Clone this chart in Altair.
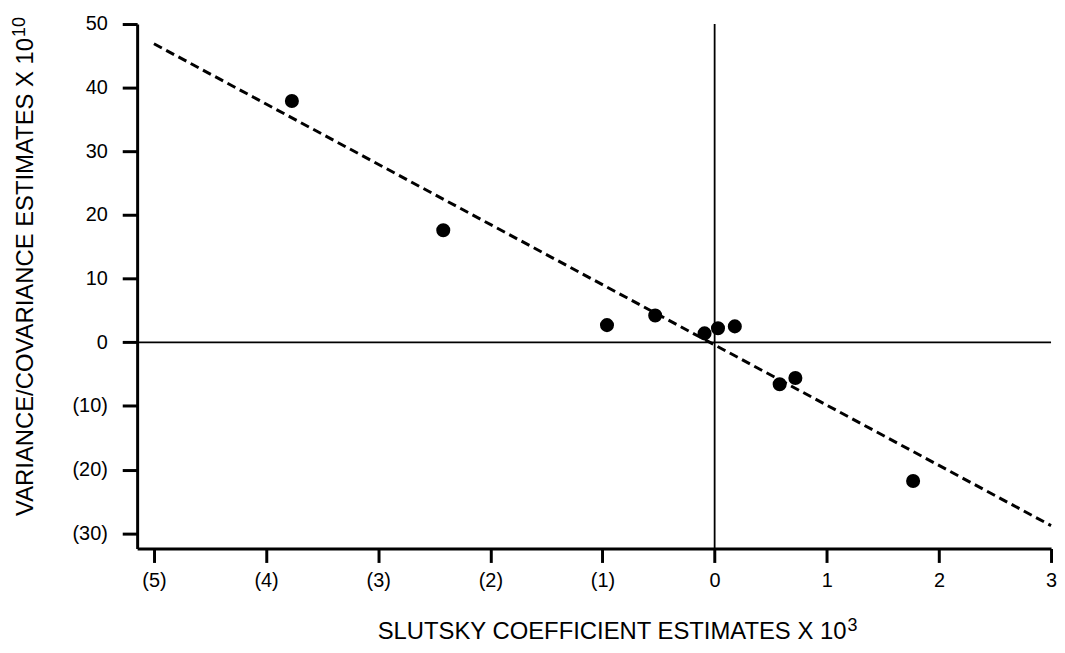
import altair as alt
import pandas as pd

# Data
slutsky_x = [-3.77, -2.42, -0.96, -0.53, -0.09, 0.03, 0.18, 0.58, 0.72, 1.77]
varcov_y = [37.9, 17.6, 2.7, 4.2, 1.4, 2.2, 2.5, -6.6, -5.6, -21.8]

fit_x = [-5.0, 3.0]
fit_y = [46.9, -28.8]

x_ticks = [-5, -4, -3, -2, -1, 0, 1, 2, 3]
y_ticks = [-30, -25, -20, -15, -10, -5, 0, 5, 10, 15, 20, 25, 30, 35, 40, 45, 50]

x_title = "SLUTSKY COEFFICIENT ESTIMATES X 10"
x_title_sup = "3"
y_title = "VARIANCE/COVARIANCE ESTIMATES X 10"
y_title_sup = "10"

pts = pd.DataFrame({"x": slutsky_x, "y": varcov_y})
fit = pd.DataFrame({"x": fit_x, "y": fit_y})
zero = pd.DataFrame({"v": [0]})
one = pd.DataFrame({"k": [0]})

FONT = "Liberation Sans"
W, H = 920, 528

xscale = alt.Scale(domain=[-5.15, 3], nice=False, zero=False)
yscale = alt.Scale(domain=[-32.4, 50], nice=False, zero=False)

xaxis = alt.Axis(
    values=x_ticks,
    labelExpr="datum.value < 0 ? '(' + abs(datum.value) + ')' : '' + datum.value",
    title=None,
    labelFont=FONT, labelFontSize=20, labelColor="black", labelPadding=8,
    tickSize=14, tickWidth=3, tickColor="black",
    domainWidth=3, domainColor="black", grid=False,
    labelFlush=False, labelOverlap=False,
)
yaxis = alt.Axis(
    values=y_ticks,
    labelExpr="datum.value % 10 !== 0 ? '' : (datum.value < 0 ? '(' + abs(datum.value) + ')' : '' + datum.value)",
    title=None,
    labelFont=FONT, labelFontSize=20, labelColor="black", labelPadding=15,
    tickSize={"condition": {"test": "datum.value % 10 === 0", "value": 15}, "value": 8},
    tickWidth=3, tickColor="black",
    domainWidth=3, domainColor="black", grid=False,
    labelFlush=False, labelOverlap=False,
)

points = alt.Chart(pts).mark_circle(size=200, color="black", opacity=1).encode(
    x=alt.X("x:Q", scale=xscale, axis=xaxis),
    y=alt.Y("y:Q", scale=yscale, axis=yaxis),
)

fitline = alt.Chart(fit).mark_line(color="black", strokeWidth=3, strokeDash=[9, 5]).encode(
    x=alt.X("x:Q", scale=xscale),
    y=alt.Y("y:Q", scale=yscale),
)

vrule = alt.Chart(zero).mark_rule(color="black", strokeWidth=1.8).encode(
    x=alt.X("v:Q", scale=xscale)
)
hrule = alt.Chart(zero).mark_rule(color="black", strokeWidth=1.8).encode(
    y=alt.Y("v:Q", scale=yscale)
)

# axis titles with superscripts (placed in pixels relative to the plot area)
xt = alt.Chart(one).mark_text(
    text=x_title, font=FONT, fontSize=24, color="black", align="right", baseline="alphabetic"
).encode(x=alt.value(714), y=alt.value(619))
xts = alt.Chart(one).mark_text(
    text=x_title_sup, font=FONT, fontSize=18, color="black", align="left", baseline="alphabetic"
).encode(x=alt.value(715), y=alt.value(611))
yt = alt.Chart(one).mark_text(
    text=y_title, font=FONT, fontSize=24, color="black", align="right", baseline="alphabetic", angle=270
).encode(x=alt.value(-105), y=alt.value(14))
yts = alt.Chart(one).mark_text(
    text=y_title_sup, font=FONT, fontSize=18, color="black", align="left", baseline="alphabetic", angle=270
).encode(x=alt.value(-113), y=alt.value(13))

chart = alt.layer(vrule, hrule, fitline, points, xt, xts, yt, yts).properties(
    width=W, height=H,
    autosize=alt.AutoSizeParams(type="none"),
    padding={"left": 130, "top": 14, "right": 6, "bottom": 98},
    background="white",
).configure_view(stroke=None)

chart.save("out.html", embed_options={"renderer": "svg", "actions": False})
